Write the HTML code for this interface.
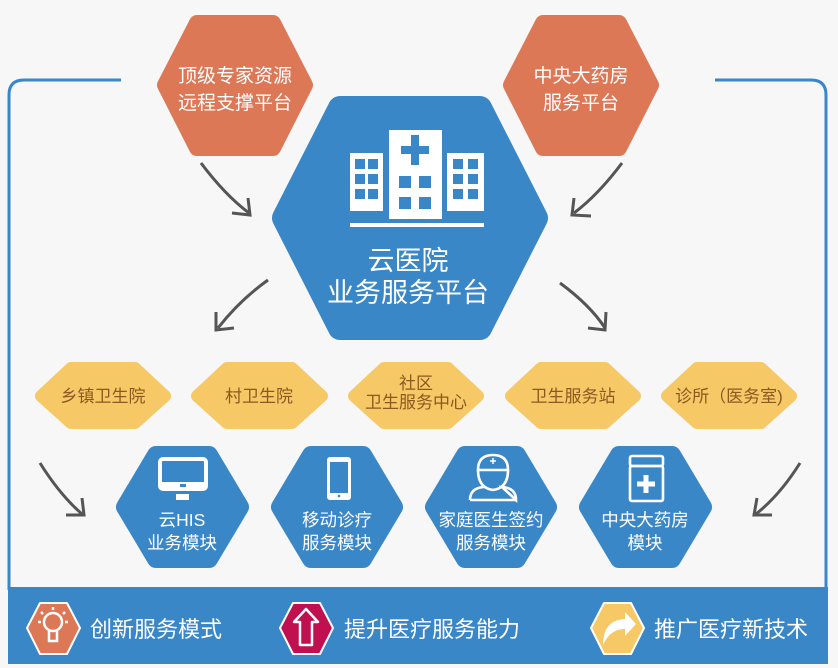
<!DOCTYPE html>
<html><head><meta charset="utf-8"><style>
html,body{margin:0;padding:0;background:#f7f7f7;}
svg{display:block;}
text{font-family:"Liberation Sans","Noto Sans CJK SC",sans-serif;}
</style></head><body>
<svg width="838" height="668" viewBox="0 0 838 668" xmlns="http://www.w3.org/2000/svg">
<defs>
<marker id="ah" markerWidth="10" markerHeight="10" refX="6" refY="5" orient="auto" markerUnits="userSpaceOnUse"></marker>
</defs>
<rect width="838" height="668" fill="#f7f7f7"/>
<!-- frame -->
<path d="M121 80 H24 Q9 80 9 95 V590" fill="none" stroke="#3a87c8" stroke-width="3"/>
<path d="M715 80 H811 Q826 80 826 95 V590" fill="none" stroke="#3a87c8" stroke-width="3"/>
<rect x="8" y="587" width="820" height="77" fill="#3a87c8"/>

<!-- orange hexes -->
<g fill="#dd7857" stroke="#dd7857" stroke-width="16" stroke-linejoin="round">
<polygon points="165,85 197,23 273,23 305,85 273,148 197,148"/>
<polygon points="511,85 543,23 619,23 651,85 619,148 543,148"/>
</g>
<g fill="#fff" font-size="19" text-anchor="middle">
<text x="235" y="82">顶级专家资源</text>
<text x="235" y="109">远程支撑平台</text>
<text x="581" y="82">中央大药房</text>
<text x="581" y="109">服务平台</text>
</g>

<!-- big blue hex -->
<polygon points="284,218 340,108 480,108 536,218 480,328 340,328" fill="#3a87c8" stroke="#3a87c8" stroke-width="24" stroke-linejoin="round"/>
<g fill="#fff">
<rect x="350" y="153" width="33" height="58"/>
<rect x="389" y="130" width="53" height="89"/>
<rect x="447" y="153" width="37" height="58"/>
<rect x="350" y="223" width="134" height="4"/>
</g>
<g fill="#3a87c8">
<rect x="355" y="159" width="10" height="10"/><rect x="368" y="159" width="10" height="10"/>
<rect x="355" y="174" width="10" height="10"/><rect x="368" y="174" width="10" height="10"/>
<rect x="355" y="189" width="10" height="10"/><rect x="368" y="189" width="10" height="10"/>
<rect x="453" y="159" width="10" height="10"/><rect x="468" y="159" width="10" height="10"/>
<rect x="453" y="174" width="10" height="10"/><rect x="468" y="174" width="10" height="10"/>
<rect x="453" y="189" width="10" height="10"/><rect x="468" y="189" width="10" height="10"/>
<rect x="411" y="135" width="8" height="30"/><rect x="401" y="146" width="28" height="8"/>
<rect x="399" y="176" width="12" height="12"/><rect x="419" y="176" width="12" height="12"/>
<rect x="399" y="197" width="12" height="12"/><rect x="419" y="197" width="12" height="12"/>
</g>
<g fill="#fff" font-size="27" text-anchor="middle">
<text x="408" y="270">云医院</text>
<text x="408" y="302">业务服务平台</text>
</g>

<!-- arrows -->
<g fill="none" stroke="#555" stroke-width="3">
<path d="M201 163 Q225 195 249 213"/><path d="M232 213 L250 215 L248 198"/>
<path d="M622 163 Q598 195 574 213"/><path d="M591 216 L572 215 L574 198"/>
<path d="M268 280 Q240 300 218 328"/><path d="M216 312 L216 330 L234 328"/>
<path d="M560 283 Q590 305 605 328"/><path d="M588 328 L605 330 L606 312"/>
<path d="M40 463 Q60 495 82 514"/><path d="M66 515 L84 515 L82 498"/>
<path d="M800 463 Q780 495 756 514"/><path d="M772 515 L754 515 L757 498"/>
</g>

<!-- yellow hexes -->
<g fill="#f6c866" stroke="#f6c866" stroke-width="12" stroke-linejoin="round">
<polygon points="41,396 71,368 135,368 165,396 135,423 71,423"/>
<polygon points="197,396 227,368 292,368 322,396 292,423 227,423"/>
<polygon points="354,396 384,368 448,368 478,396 448,423 384,423"/>
<polygon points="511,396 541,368 605,368 635,396 605,423 541,423"/>
<polygon points="667,396 697,368 761,368 791,396 761,423 697,423"/>
</g>
<g fill="#8b5a20" font-size="17" text-anchor="middle">
<text x="103" y="402">乡镇卫生院</text>
<text x="259" y="402">村卫生院</text>
<text x="416" y="389">社区</text>
<text x="416" y="408">卫生服务中心</text>
<text x="573" y="402">卫生服务站</text>
<text x="729" y="402">诊所（医务室)</text>
</g>

<!-- module hexes -->
<g fill="#3a87c8" stroke="#3a87c8" stroke-width="18" stroke-linejoin="round">
<polygon points="125,507 156,455 209,455 240,507 209,559 156,559"/>
<polygon points="280,507 311,455 363,455 394,507 363,559 311,559"/>
<polygon points="434,507 465,455 517,455 548,507 517,559 465,559"/>
<polygon points="588,507 619,455 672,455 703,507 672,559 619,559"/>
</g>
<!-- monitor -->
<rect x="160" y="459" width="46" height="30" rx="3" fill="none" stroke="#fff" stroke-width="4"/>
<rect x="160" y="482" width="46" height="8" fill="#fff"/>
<rect x="180" y="484" width="6" height="3" fill="#3a87c8"/>
<rect x="176" y="494" width="13" height="6" fill="#fff"/>
<!-- phone -->
<rect x="327" y="457" width="24" height="43" rx="3" fill="#fff"/>
<rect x="330" y="462" width="18" height="31" fill="#3a87c8"/>
<circle cx="339" cy="496" r="1.3" fill="#3a87c8"/>
<!-- doctor -->
<g fill="none" stroke="#fff" stroke-width="2.6">
<path d="M478 470 Q478 455 493 455 Q508 455 508 470 Z"/>
<path d="M478 470 Q478 488 493 490 Q508 488 508 470"/>
<path d="M470 500 Q470 488 484 487 M502 487 Q516 488 516 500 Z"/>
<path d="M470 500 L516 500"/>
</g>
<path d="M493 458 v6 M490 461 h6" stroke="#fff" stroke-width="1.5"/>
<!-- bottle -->
<g fill="none" stroke="#fff" stroke-width="2.6">
<rect x="630" y="456" width="33" height="10" rx="2"/>
<rect x="630" y="466" width="33" height="35" rx="2"/>
</g>
<path d="M646 475 v18 M637 484 h18" stroke="#fff" stroke-width="5"/>
<g fill="#fff" font-size="17.5" text-anchor="middle">
<text x="182" y="526">云HIS</text>
<text x="182" y="549">业务模块</text>
<text x="337" y="526">移动诊疗</text>
<text x="337" y="549">服务模块</text>
<text x="491" y="526">家庭医生签约</text>
<text x="491" y="549">服务模块</text>
<text x="645" y="526">中央大药房</text>
<text x="645" y="549">模块</text>
</g>

<!-- bottom icons -->
<g stroke="#fff" stroke-width="2" stroke-linejoin="round">
<polygon points="27,628 40,603 67,603 80,628 67,654 40,654" fill="#dd7857"/>
<polygon points="280,628 293,603 320,603 333,628 320,654 293,654" fill="#c0104f"/>
<polygon points="591,628 604,603 631,603 644,628 631,654 604,654" fill="#f6c866"/>
</g>
<!-- bulb -->
<g fill="none" stroke="#fff" stroke-width="2.5">
<circle cx="53" cy="622" r="9"/>
<path d="M49 631 v10 h8 v-10"/>
<path d="M53 607 v3 M41 612 l2 2 M65 612 l-2 2 M38 622 h3 M65 622 h3"/>
</g>
<!-- up arrow -->
<path d="M306 609 L318 622 H312 V645 H300 V622 H294 Z" fill="none" stroke="#fff" stroke-width="2.5" stroke-linejoin="round"/>
<!-- share arrow -->
<path d="M603 645 Q603 620 625 619 V612 L636 624 L625 636 V629 Q610 629 603 645 Z" fill="#fff"/>
<g fill="#fff" font-size="22">
<text x="90" y="637">创新服务模式</text>
<text x="344" y="637">提升医疗服务能力</text>
<text x="654" y="637">推广医疗新技术</text>
</g>
</svg>
</body></html>
